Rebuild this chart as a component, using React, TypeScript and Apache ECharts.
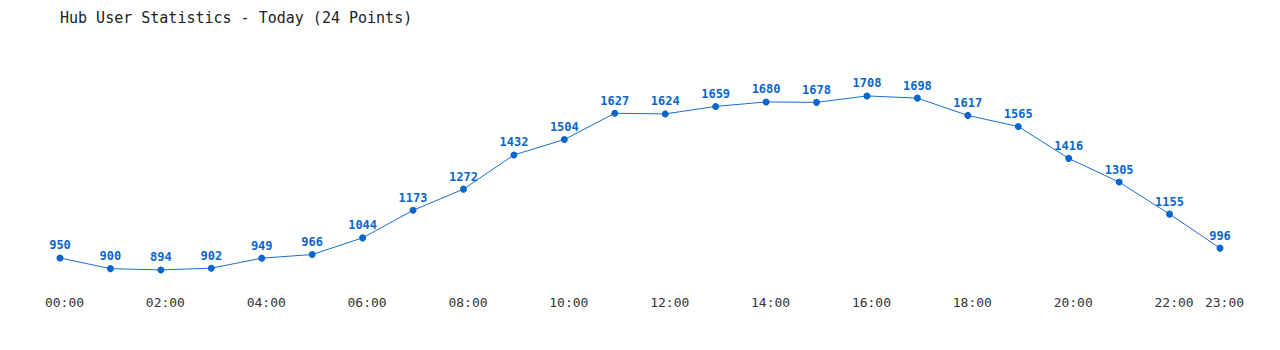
import React, { useEffect, useRef } from "react";
import * as echarts from "echarts";

const hours = ["00:00","01:00","02:00","03:00","04:00","05:00","06:00","07:00","08:00","09:00","10:00","11:00","12:00","13:00","14:00","15:00","16:00","17:00","18:00","19:00","20:00","21:00","22:00","23:00"];
const users = [950,900,894,902,949,966,1044,1173,1272,1432,1504,1627,1624,1659,1680,1678,1708,1698,1617,1565,1416,1305,1155,996];
const titleText = "Hub User Statistics - Today (24 Points)";

const FONT = "'DejaVu Sans Mono', 'Liberation Mono', monospace";

export default function App() {
  const ref = useRef<HTMLDivElement>(null);
  useEffect(() => {
    if (!ref.current) return;
    const chart = echarts.init(ref.current, undefined, { renderer: "svg" });
    chart.setOption({
      animation: false,
      backgroundColor: "#ffffff",
      title: {
        text: titleText,
        left: 52,
        top: 2,
        padding: 0,
        textStyle: { fontFamily: FONT, fontSize: 15, fontWeight: "normal", color: "#222" },
      },
      grid: { left: 52, right: 52, top: 68.3, bottom: 52 },
      xAxis: {
        type: "category",
        data: hours,
        boundaryGap: false,
        axisLine: { show: false },
        axisTick: { show: false },
        splitLine: { show: false },
        axisLabel: {
          interval: (i: number) => i % 2 === 0 || i === 23,
          fontFamily: FONT,
          fontSize: 13,
          color: "#333",
          margin: 6,
          padding: [0, 0, 0, 9],
        },
      },
      yAxis: {
        type: "value",
        min: 800,
        max: 1800,
        show: false,
      },
      series: [
        {
          type: "line",
          data: users,
          symbol: "circle",
          symbolSize: 7,
          lineStyle: { color: "#1a6fcc", width: 1 },
          itemStyle: { color: "#0a66cc" },
          label: {
            show: true,
            position: "top",
            distance: 3,
            fontFamily: FONT,
            fontSize: 12,
            fontWeight: "bold",
            color: "#0a66cc",
          },
        },
      ],
    });
    return () => chart.dispose();
  }, []);
  return <div ref={ref} style={{ width: 1264, height: 334 }} />;
}
